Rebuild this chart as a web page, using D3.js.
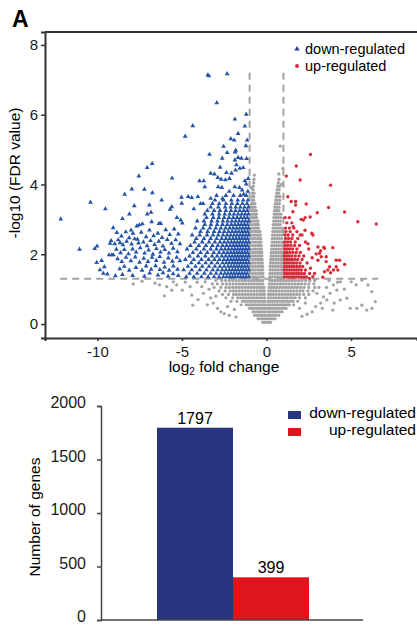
<!DOCTYPE html>
<html>
<head>
<meta charset="utf-8">
<script src="https://cdn.jsdelivr.net/npm/d3@7"></script>
<style>
  body { margin: 0; background: #fff; }
  text { font-family: "Liberation Sans", Arial, sans-serif; }
</style>
</head>
<body>
<div id="chart"></div>
<script>
// ---- volcano plot data: [log2 fold change, -log10 FDR] ----
// dense parts are read row by row: [y, [x, x, ...]]
const downRows = [
  [1.35, [-1.06,-1.21,-1.37,-1.53,-1.69,-1.85,-2.01,-2.17,-2.35,-2.55,-2.8,-3.1,-3.45,-3.85,-4.3,-4.75]],
  [1.45, [-1.13,-1.29,-1.45,-1.61,-1.77,-1.93,-2.1,-2.28,-2.47,-2.7,-2.98,-3.3,-3.68,-4.1,-4.55]],
  [1.55, [-1.06,-1.21,-1.37,-1.53,-1.69,-1.85,-2.02,-2.2,-2.4,-2.62,-2.88,-3.18,-3.55,-3.95,-4.42,-4.9]],
  [1.65, [-1.12,-1.28,-1.44,-1.6,-1.76,-1.92,-2.09,-2.27,-2.5,-2.75,-3.05,-3.4,-3.8,-4.2,-4.65]],
  [1.75, [-1.06,-1.22,-1.38,-1.54,-1.7,-1.86,-2.02,-2.2,-2.38,-2.6,-2.9,-3.25,-3.6,-4.0,-4.45]],
  [1.85, [-1.13,-1.29,-1.45,-1.61,-1.77,-1.94,-2.11,-2.3,-2.52,-2.78,-3.08,-3.42,-3.85,-4.3,-4.8]],
  [1.95, [-1.06,-1.22,-1.38,-1.54,-1.7,-1.86,-2.03,-2.21,-2.41,-2.64,-2.92,-3.22,-3.62,-4.05,-4.55]],
  [2.05, [-1.12,-1.28,-1.44,-1.6,-1.76,-1.93,-2.11,-2.31,-2.53,-2.8,-3.12,-3.5,-3.9,-4.35]],
  [2.15, [-1.06,-1.22,-1.38,-1.54,-1.7,-1.87,-2.05,-2.24,-2.45,-2.68,-2.96,-3.3,-3.7,-4.15,-4.7]],
  [2.25, [-1.13,-1.29,-1.45,-1.61,-1.78,-1.96,-2.15,-2.36,-2.6,-2.88,-3.2,-3.58,-4.0,-4.5]],
  [2.35, [-1.06,-1.22,-1.38,-1.55,-1.72,-1.9,-2.08,-2.28,-2.5,-2.75,-3.05,-3.4,-3.8,-4.25]],
  [2.45, [-1.12,-1.28,-1.45,-1.62,-1.8,-1.98,-2.18,-2.4,-2.65,-2.95,-3.3,-3.7,-4.15]],
  [2.55, [-1.06,-1.22,-1.39,-1.56,-1.74,-1.92,-2.12,-2.33,-2.57,-2.85,-3.16,-3.52,-3.95,-4.4]],
  [2.65, [-1.12,-1.29,-1.46,-1.64,-1.83,-2.03,-2.25,-2.5,-2.78,-3.1,-3.48,-3.9]],
  [2.75, [-1.06,-1.23,-1.4,-1.58,-1.77,-1.97,-2.18,-2.42,-2.7,-3.0,-3.35,-3.75,-4.2]],
  [2.85, [-1.12,-1.3,-1.48,-1.67,-1.87,-2.08,-2.32,-2.6,-2.92,-3.28,-3.65]],
  [2.95, [-1.06,-1.24,-1.42,-1.62,-1.83,-2.05,-2.3,-2.58,-2.9,-3.25,-3.7,-4.1]],
  [3.05, [-1.13,-1.32,-1.52,-1.74,-1.97,-2.22,-2.5,-2.82,-3.15,-3.55]],
  [3.15, [-1.07,-1.26,-1.46,-1.68,-1.92,-2.18,-2.47,-2.8,-3.2,-3.65]],
  [3.25, [-1.14,-1.35,-1.58,-1.83,-2.1,-2.4,-2.75,-3.1,-3.5]],
  [3.35, [-1.08,-1.3,-1.55,-1.82,-2.12,-2.45,-2.85,-3.3]],
  [3.45, [-1.15,-1.42,-1.72,-2.05,-2.4,-2.8,-3.2,-3.75]],
  [3.55, [-1.1,-1.38,-1.7,-2.08,-2.55,-3.05]],
  [3.68, [-1.2,-1.55,-1.95,-2.4,-2.95]]
];

const downPoints = [
  [-3.41,7.11],[-3.47,7.14],[-2.33,7.17],[-2.94,6.34],[-4.36,5.68],[-4.81,5.38],[-1.87,5.87],[-1.2,6.01],
  [-1.28,5.67],[-1.68,5.46],[-2.11,5.31],[-1.91,5.27],[-1.14,5.27],[-1.22,5.11],[-2.54,5.09],[-1.82,4.98],
  [-1.86,4.93],[-2.33,4.91],[-3.37,4.86],[-6.76,4.6],[-7.06,4.48],[-7.55,4.24],[-5.58,4.18],[-2.62,4.75],
  [-1.68,4.77],[-1.48,4.75],[-1.87,4.7],[-1.18,4.74],[-2.74,4.49],[-1.78,4.56],[-1.58,4.46],[-1.38,4.48],
  [-1.83,4.41],[-2.37,4.34],[-2.07,4.32],[-3.08,4.3],[-3.3,4.32],[-2.88,4.2],[-2.68,4.15],[-2.19,4.17],
  [-2.43,4.13],[-1.08,4.17],[-1.28,4.1],[-1.2,4.01],[-3.96,4.1],[-3.71,4.1],[-3.65,3.93],[-2.86,3.93],
  [-2.64,3.91],[-1.87,3.93],[-1.6,3.91],[-1.44,3.84],[-6.75,3.76],[-5.03,3.63],[-4.63,3.65],[-4.42,3.62],
  [-4.06,3.65],[-7.97,3.87],[-7.22,3.86],[-8.39,3.72],[-12.17,3.01],[-10.41,3.49],[-9.53,3.3],[-11.06,2.14],
  [-10.16,2.16],[-10.02,2.23],[-9.07,2.76],[-10.04,1.76],[-9.75,1.82],[-9.59,1.64],[-9.85,1.55],[-9.41,1.43],
  [-9.65,1.45],[-8.94,1.38],[-9.25,2.31],[-9.19,2.39],[-9.31,1.98],[-9.15,1.98],[-9.06,1.98],[-8.66,2.33],
  [-8.52,3.02],[-8.11,3.15],[-7.82,3.39],[-7.67,2.81],[-7.52,2.84],[-7.34,2.87],[-8.01,2.69],[-6.93,3.41],
  [-7.05,3.15],[-6.83,3.2],[-6.79,2.93],[-6.36,2.88],[-6.25,2.88],[-5.7,3.29],[-5.6,3.36],[-5.01,3.46],
  [-5.07,2.98],[-4.98,2.89],[-6.2,3.55],[-5.3,3.05],[-4.3,3.3],[-3.9,3.45],[-3.3,3.6],[-2.2,3.8],
  [-1.1,3.8],[-1.35,3.72],[-2.6,3.6],
  [-8.85,2.62],[-8.58,2.52],[-8.32,2.64],[-8.12,2.47],[-7.9,2.6],[-7.63,2.43],[-7.41,2.63],[-7.12,2.5],
  [-6.92,2.69],[-6.68,2.53],[-6.43,2.6],[-6.18,2.48],[-5.96,2.7],[-5.72,2.56],[-5.46,2.72],[-5.22,2.58],
  [-8.98,2.3],[-8.77,2.41],[-8.49,2.27],[-8.27,2.37],[-7.98,2.29],[-7.8,2.44],[-7.57,2.32],[-7.28,2.35],
  [-7.06,2.24],[-6.86,2.39],[-6.62,2.28],[-6.37,2.37],[-6.12,2.23],[-5.87,2.42],[-5.62,2.31],[-5.37,2.41],
  [-5.12,2.3],[-8.88,2.14],[-8.63,2.04],[-8.41,2.13],[-8.16,2.01],[-7.92,2.15],[-7.71,2.06],[-7.47,2.18],
  [-7.21,2.03],[-6.97,2.12],[-6.72,2.0],[-6.51,2.16],[-6.27,2.06],[-6.02,2.13],[-5.77,2.03],[-5.52,2.17],
  [-5.27,2.07],[-8.81,1.87],[-8.56,1.79],[-8.31,1.91],[-8.02,1.81],[-7.76,1.92],[-7.51,1.77],[-7.26,1.88],
  [-7.01,1.79],[-6.77,1.91],[-6.52,1.82],[-6.31,1.93],[-6.06,1.77],[-5.81,1.89],[-5.56,1.8],[-5.31,1.91],
  [-5.12,1.81],[-8.68,1.58],[-8.41,1.65],[-8.12,1.54],[-7.72,1.62],[-7.36,1.54],[-7.12,1.66],[-6.82,1.57],
  [-6.56,1.67],[-6.31,1.56],[-6.02,1.63],[-5.76,1.54],[-5.51,1.66],[-5.26,1.57],[-8.52,1.42],[-7.92,1.39],
  [-7.22,1.37],[-6.91,1.46],[-6.42,1.4],[-6.12,1.47],[-5.82,1.37],[-5.52,1.44],[-5.22,1.39]
];

const upRows = [
  [1.35, [1.06,1.2,1.34,1.48,1.62,1.76,1.9,2.04,2.2,2.36]],
  [1.45, [1.08,1.22,1.36,1.5,1.64,1.78,1.92,2.08,2.24]],
  [1.55, [1.06,1.2,1.34,1.48,1.62,1.76,1.9,2.06,2.3]],
  [1.65, [1.08,1.22,1.36,1.5,1.64,1.8,1.96,2.14]],
  [1.75, [1.06,1.2,1.34,1.48,1.62,1.78,1.98,2.4]],
  [1.85, [1.08,1.22,1.36,1.5,1.66,1.84,2.1]],
  [1.95, [1.06,1.2,1.34,1.5,1.7,1.92,2.2]],
  [2.05, [1.08,1.22,1.38,1.56,1.76,2.0]],
  [2.15, [1.06,1.2,1.36,1.54,1.8,2.5]],
  [2.25, [1.1,1.26,1.44,1.66,1.95]],
  [2.35, [1.08,1.24,1.42,1.7,2.3]],
  [2.45, [1.12,1.3,1.5,1.85]],
  [2.55, [1.1,1.28,1.55,2.1]],
  [2.65, [1.15,1.4,1.8]],
  [2.75, [1.12,1.35,1.62]],
  [2.9, [1.2,1.5]],
  [3.05, [1.1,1.35]]
];

const upPoints = [
  [2.6,4.86],[1.76,4.53],[1.17,4.24],[1.99,4.13],[3.79,3.98],[1.26,3.65],[1.46,3.51],[1.72,3.51],
  [1.72,3.41],[2.35,3.44],[3.67,3.34],[4.62,3.21],[3.0,3.19],[1.56,3.22],[2.05,3.0],[2.29,3.05],
  [5.4,2.93],[6.49,2.87],[2.74,2.55],[3.04,2.21],[3.43,2.17],[3.92,2.19],[3.14,2.03],[3.53,1.93],
  [3.04,1.83],[4.12,1.83],[4.32,1.83],[4.62,1.71],[4.12,1.64],[4.22,1.55],[3.73,1.64],[3.39,2.2],
  [3.2,2.1],[2.94,2.01],[3.24,1.93],[3.53,1.79],[3.96,1.55],[3.63,1.55],[3.79,1.47],[3.43,1.5],
  [3.33,1.34],[2.74,1.36],[2.84,1.45],[2.54,1.31],[2.18,2.98],[2.58,3.07],[1.99,2.55],[2.28,2.69],
  [1.58,2.79],[2.68,2.6],[2.6,1.6],[2.7,1.9],[2.45,2.3],[2.55,1.45]
];

const nsRows = [
  [0.05, [-0.22,-0.1,0.02,0.14,0.24]],
  [0.15, [-0.5,-0.36,-0.22,-0.08,0.06,0.2,0.34,0.5]],
  [0.25, [-0.7,-0.56,-0.42,-0.28,-0.14,0,0.14,0.28,0.42,0.56,0.72]],
  [0.35, [-0.8,-0.66,-0.52,-0.38,-0.24,-0.1,0.08,0.22,0.36,0.5,0.64,0.78,0.92]],
  [0.45, [-1.0,-0.86,-0.72,-0.58,-0.44,-0.3,-0.16,-0.06,0.06,0.18,0.32,0.46,0.6,0.74,0.88,1.02,1.16]],
  [0.55, [-1.5,-1.2,-1.06,-0.92,-0.78,-0.64,-0.5,-0.36,-0.22,-0.08,0.08,0.22,0.36,0.5,0.64,0.78,0.92,1.06,1.2,1.34,1.6]],
  [0.65, [-2.1,-1.75,-1.42,-1.27,-1.12,-0.97,-0.82,-0.67,-0.52,-0.37,-0.22,-0.09,0.09,0.22,0.37,0.52,0.67,0.82,0.97,1.12,1.27,1.42,1.58,1.85]],
  [0.75, [-2.4,-2.0,-1.7,-1.54,-1.38,-1.22,-1.06,-0.9,-0.74,-0.58,-0.42,-0.26,-0.11,0.11,0.26,0.42,0.58,0.74,0.9,1.06,1.22,1.38,1.54,1.7,1.95,2.3]],
  [0.85, [-2.6,-2.25,-1.95,-1.78,-1.6,-1.42,-1.24,-1.07,-0.9,-0.73,-0.56,-0.39,-0.24,-0.12,0.12,0.24,0.4,0.57,0.74,0.91,1.08,1.25,1.42,1.6,1.78,1.96,2.2,2.5]],
  [0.95, [-2.8,-2.45,-2.15,-1.96,-1.78,-1.6,-1.42,-1.25,-1.08,-0.91,-0.74,-0.57,-0.4,-0.26,-0.13,0.13,0.27,0.42,0.58,0.75,0.92,1.09,1.26,1.43,1.61,1.79,1.98,2.16,2.45,2.75]],
  [1.05, [-3.1,-2.7,-2.4,-2.2,-2.0,-1.82,-1.64,-1.46,-1.28,-1.11,-0.94,-0.77,-0.6,-0.44,-0.29,-0.15,0.15,0.3,0.46,0.62,0.79,0.96,1.13,1.3,1.47,1.65,1.83,2.02,2.22,2.5,2.85]],
  [1.15, [-2.9,-2.6,-2.38,-2.17,-1.97,-1.78,-1.59,-1.41,-1.23,-1.05,-0.88,-0.71,-0.54,-0.38,-0.22,0.18,0.33,0.49,0.66,0.83,1.0,1.17,1.34,1.52,1.7,1.88,2.07,2.28,2.5,2.8]],
  [1.25, [-3.0,-2.65,-2.42,-2.2,-2.0,-1.8,-1.61,-1.42,-1.24,-1.06,-0.89,-0.72,-0.55,-0.39,-0.23,0.2,0.35,0.51,0.68,0.85,1.02,1.19,1.36,1.54,1.72,1.9,2.1,2.32,2.56,2.85]],
  [1.35, [-0.98,-0.82,-0.66,-0.5,-0.34,-0.2,0.19,0.34,0.5,0.66,0.82,0.96]],
  [1.45, [-0.96,-0.8,-0.64,-0.48,-0.34,-0.21,0.2,0.35,0.5,0.65,0.8,0.95]],
  [1.55, [-0.98,-0.83,-0.67,-0.51,-0.36,-0.22,0.21,0.36,0.52,0.68,0.84,0.97]],
  [1.65, [-0.96,-0.8,-0.64,-0.49,-0.35,-0.23,0.22,0.37,0.52,0.67,0.82,0.95]],
  [1.75, [-0.97,-0.82,-0.66,-0.5,-0.37,-0.24,0.24,0.38,0.54,0.7,0.85,0.96]],
  [1.85, [-0.95,-0.79,-0.64,-0.5,-0.37,-0.26,0.25,0.39,0.54,0.69,0.84,0.95]],
  [1.95, [-0.97,-0.82,-0.67,-0.52,-0.39,-0.27,0.27,0.4,0.55,0.7,0.85,0.96]],
  [2.05, [-0.96,-0.8,-0.65,-0.51,-0.39,-0.28,0.28,0.42,0.56,0.71,0.86,0.96]],
  [2.15, [-0.97,-0.82,-0.67,-0.53,-0.41,-0.3,0.3,0.43,0.57,0.72,0.87]],
  [2.25, [-0.95,-0.8,-0.66,-0.52,-0.41,-0.31,0.31,0.45,0.59,0.73,0.88]],
  [2.35, [-0.96,-0.81,-0.67,-0.54,-0.43,-0.33,0.33,0.46,0.6,0.75,0.9]],
  [2.45, [-0.95,-0.8,-0.66,-0.53,-0.43,-0.34,0.34,0.47,0.61,0.76,0.9]],
  [2.55, [-0.96,-0.82,-0.68,-0.55,-0.45,-0.36,0.36,0.49,0.63,0.77,0.92]],
  [2.65, [-0.94,-0.8,-0.67,-0.55,-0.45,-0.38,0.37,0.5,0.64,0.78,0.92]],
  [2.75, [-0.95,-0.81,-0.68,-0.56,-0.47,0.39,0.52,0.66,0.8,0.93]],
  [2.85, [-0.94,-0.8,-0.68,-0.57,-0.48,0.4,0.53,0.67,0.81]],
  [2.95, [-0.93,-0.8,-0.68,-0.58,-0.5,0.42,0.55,0.69,0.83]],
  [3.05, [-0.92,-0.8,-0.69,-0.59,0.44,0.57,0.7,0.84]],
  [3.15, [-0.91,-0.79,-0.69,-0.6,0.46,0.58,0.71,0.85]],
  [3.25, [-0.9,-0.79,-0.69,-0.61,0.48,0.6,0.73]],
  [3.35, [-0.89,-0.78,-0.68,0.5,0.62,0.74]],
  [3.45, [-0.88,-0.78,-0.69,0.52,0.64,0.76]],
  [3.55, [-0.86,-0.76,0.54,0.66,0.78]],
  [3.65, [-0.85,-0.76,0.57,0.68,0.8]],
  [3.75, [-0.83,-0.74,0.6,0.72]],
  [3.85, [-0.8,0.63,0.75]],
  [3.95, [-0.78,0.66,0.77]],
  [4.05, [-0.76,0.7]],
  [4.15, [-0.74,0.74]]
];

const nsPoints = [
  [0.81,5.1],[0.97,4.46],[0.73,4.3],[-0.72,4.27],[0.88,4.0],[-0.9,3.9],
  [-7.88,1.15],[-7.36,1.23],[-6.59,1.17],[-6.33,1.12],[-6.04,0.81],[-5.9,1.07],[-5.6,0.97],[-5.51,1.21],
  [-5.31,1.12],[-4.98,0.97],[-4.52,1.07],[-4.42,0.83],[-4.36,0.54],[-3.83,1.07],[-3.73,0.88],[-3.63,1.21],
  [-3.4,1.0],[-3.3,0.75],[-3.5,0.55],[-4.1,1.2],[-4.8,1.2],[-3.2,1.15],[-3.15,0.6],[-2.9,0.45],
  [-2.7,0.35],[-3.0,0.8],[-4.05,0.7],[-2.5,0.3],[-2.2,0.25],[-1.8,0.2],[-2.3,0.5],[-1.9,0.42],
  [2.98,0.88],[3.37,0.78],[3.57,0.69],[3.76,0.88],[4.16,0.97],[4.36,0.69],[4.75,0.74],[4.95,0.45],
  [5.34,0.45],[5.64,0.54],[5.93,0.4],[6.23,0.45],[6.43,0.64],[6.23,0.93],[5.64,1.26],[4.36,1.21],
  [3.96,1.12],[5.01,1.21],[5.3,1.12],[6.0,1.12],[3.92,0.4],[3.3,0.45],[3.1,1.05],[3.55,1.05],
  [3.7,1.25],[4.6,1.0],[2.9,0.5],[2.7,0.35],[2.4,0.28],[2.1,0.22],[3.2,0.6],[4.2,1.2],[4.0,0.6],
  [1.95,0.45],[2.3,0.6]
];

const xTicks = [-10, -5, 0, 5];
const yTicks = [0, 2, 4, 6, 8];
const fcCut = 1;
const fdrCut = 1.3;

// ---- bar chart data ----
const groups = ["down-regulated", "up-regulated"];
const geneCounts = [1797, 399];
const countTicks = [0, 500, 1000, 1500, 2000];
const groupColors = ["#28367f", "#e0141c"];

const flat = rows => rows.flatMap(([yv, xs]) => xs.map(xv => [xv, yv]));
const nsData = flat(nsRows).concat(nsPoints);
const downData = flat(downRows).concat(downPoints);
const upData = flat(upRows).concat(upPoints);

const svg = d3.select("#chart")
    .append("svg")
    .attr("width", 417)
    .attr("height", 625);

// ===== panel A: volcano =====
const xScale = d3.scaleLinear().domain([-13.1, 8.9]).range([45, 417]);
const yScale = d3.scaleLinear().domain([-0.4, 8.37]).range([338, 32]);

svg.append("text")
    .attr("x", 12).attr("y", 27)
    .attr("font-size", 23).attr("font-weight", "bold")
    .text("A");

// threshold lines (under the points)
const dash = svg.append("g")
    .attr("stroke", "#a3a3a3")
    .attr("stroke-width", 2)
    .attr("stroke-dasharray", "7,5");
dash.append("line")
    .attr("x1", xScale(-12.2)).attr("x2", xScale(6.6))
    .attr("y1", yScale(fdrCut)).attr("y2", yScale(fdrCut));
[-fcCut, fcCut].forEach(v => {
    dash.append("line")
        .attr("x1", xScale(v)).attr("x2", xScale(v))
        .attr("y1", yScale(7.2)).attr("y2", yScale(fdrCut));
});

svg.append("g")
    .selectAll("circle")
    .data(nsData)
    .enter().append("circle")
    .attr("cx", d => xScale(d[0]))
    .attr("cy", d => yScale(d[1]))
    .attr("r", 1.65)
    .attr("fill", "#a4a4a4");

const tri = d3.symbol().type(d3.symbolTriangle).size(10);
svg.append("g")
    .selectAll("path")
    .data(downData)
    .enter().append("path")
    .attr("d", tri)
    .attr("transform", d => `translate(${xScale(d[0])},${yScale(d[1])})`)
    .attr("fill", "#2554a6");

svg.append("g")
    .selectAll("circle")
    .data(upData)
    .enter().append("circle")
    .attr("cx", d => xScale(d[0]))
    .attr("cy", d => yScale(d[1]))
    .attr("r", 1.7)
    .attr("fill", "#d52d3a");

// axes
const xAxis = svg.append("g")
    .attr("transform", "translate(0,338)")
    .call(d3.axisBottom(xScale).tickValues(xTicks).tickSize(3).tickPadding(5).tickFormat(d => String(d)));
const yAxis = svg.append("g")
    .attr("transform", "translate(45,0)")
    .call(d3.axisLeft(yScale).tickValues(yTicks).tickSize(4).tickPadding(3).tickFormat(d => String(d)));
[xAxis, yAxis].forEach(g => {
    g.select(".domain").attr("stroke", "#333").attr("stroke-width", 2);
    g.selectAll(".tick line").attr("stroke", "#333").attr("stroke-width", 1.5);
    g.selectAll(".tick text").attr("font-size", 15).attr("fill", "#1a1a1a")
        .attr("font-family", "Liberation Sans, Arial, sans-serif");
});
svg.append("line")
    .attr("x1", 45).attr("x2", 417).attr("y1", 32).attr("y2", 32)
    .attr("stroke", "#333").attr("stroke-width", 2);

const xLab = svg.append("text")
    .attr("x", 224).attr("y", 372)
    .attr("text-anchor", "middle")
    .attr("font-size", 15.5);
xLab.append("tspan").text("log");
xLab.append("tspan").attr("font-size", 10).attr("dy", 3).text("2");
xLab.append("tspan").attr("dy", -3).text(" fold change");

svg.append("text")
    .attr("transform", "translate(20,173) rotate(-90)")
    .attr("text-anchor", "middle")
    .attr("font-size", 15.5)
    .text("-log10 (FDR value)");

// legend
svg.append("path")
    .attr("d", d3.symbol().type(d3.symbolTriangle).size(12))
    .attr("transform", "translate(297,49)")
    .attr("fill", "#2a3b8f");
svg.append("circle").attr("cx", 297).attr("cy", 66).attr("r", 2).attr("fill", "#d52d3a");
svg.append("text").attr("x", 305).attr("y", 53.5).attr("font-size", 14.5).text("down-regulated");
svg.append("text").attr("x", 305).attr("y", 70.5).attr("font-size", 14.5).text("up-regulated");

// ===== bar chart =====
const bx = d3.scaleBand().domain(groups).range([157, 309]).padding(0);
const by = d3.scaleLinear().domain([0, 2000]).range([620, 406]);

svg.append("g")
    .selectAll("rect")
    .data(groups)
    .enter().append("rect")
    .attr("x", d => bx(d))
    .attr("y", (d, i) => by(geneCounts[i]))
    .attr("width", bx.bandwidth())
    .attr("height", (d, i) => by(0) - by(geneCounts[i]))
    .attr("fill", (d, i) => groupColors[i]);

svg.append("g")
    .selectAll("text")
    .data(groups)
    .enter().append("text")
    .attr("x", d => bx(d) + bx.bandwidth() / 2)
    .attr("y", (d, i) => by(geneCounts[i]) - 4)
    .attr("text-anchor", "middle")
    .attr("font-size", 16)
    .text((d, i) => geneCounts[i]);

const cAxis = svg.append("g")
    .attr("transform", "translate(101,0)")
    .call(d3.axisLeft(by).tickValues(countTicks).tickSize(4).tickPadding(11).tickFormat(d => String(d)));
cAxis.select(".domain").attr("stroke", "#444").attr("stroke-width", 1.5);
cAxis.selectAll(".tick line").attr("stroke", "#444").attr("stroke-width", 1.5);
cAxis.selectAll(".tick text").attr("font-size", 16).attr("fill", "#1a1a1a")
    .attr("dy", "0.12em")
    .attr("font-family", "Liberation Sans, Arial, sans-serif");

svg.append("line")
    .attr("x1", 101).attr("x2", 363).attr("y1", 620).attr("y2", 620)
    .attr("stroke", "#444").attr("stroke-width", 1.5);

svg.append("text")
    .attr("transform", "translate(40,517) rotate(-90)")
    .attr("text-anchor", "middle")
    .attr("font-size", 15.5)
    .text("Number of genes");

const barLegend = svg.append("g");
groups.forEach((g, i) => {
    barLegend.append("rect")
        .attr("x", 288).attr("y", 411 + i * 17)
        .attr("width", 13).attr("height", 8)
        .attr("fill", groupColors[i]);
    barLegend.append("text")
        .attr("x", 416).attr("y", 418 + i * 17)
        .attr("text-anchor", "end")
        .attr("font-size", 15.5)
        .text(g);
});
</script>
</body>
</html>
